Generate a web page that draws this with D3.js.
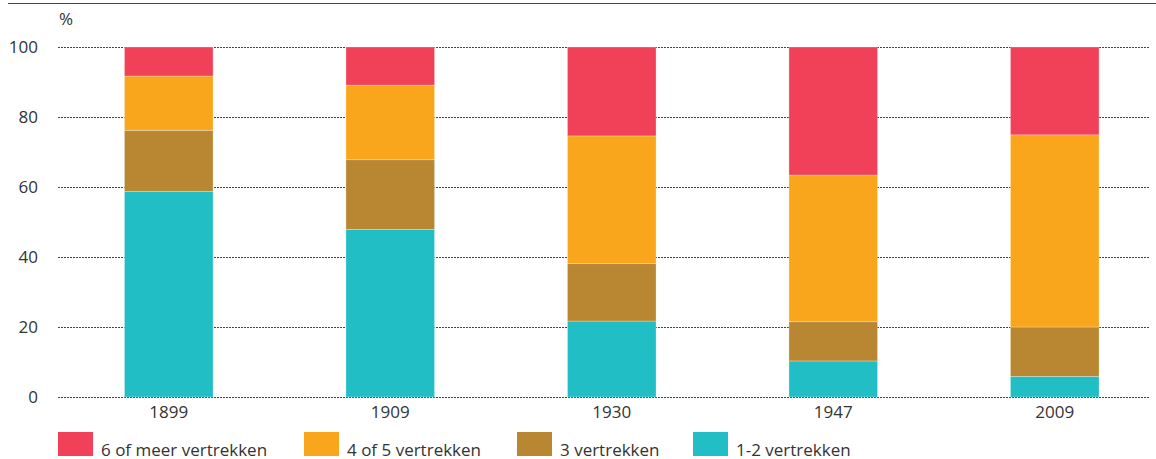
<!DOCTYPE html>
<html>
<head>
<meta charset="utf-8">
<script src="https://cdn.jsdelivr.net/npm/d3@7"></script>
<style>
  body { margin: 0; background: #fff; }
  svg text { font-family: "Open Sans", sans-serif; fill: #333; }
</style>
</head>
<body>
<svg id="chart" width="1156" height="459"></svg>
<script>
// data (% of households)
const years = ["1899", "1909", "1930", "1947", "2009"]
const oneTwo = [58.7, 47.9, 21.7, 10.3, 5.9]
const three = [17.5, 19.9, 16.4, 11.2, 14.1]
const fourFive = [15.5, 21.3, 36.5, 41.9, 54.9]
const sixPlus = [8.3, 10.9, 25.4, 36.6, 25.1]
const yTicks = [0, 20, 40, 60, 80, 100]

const seriesNames = ["1-2 vertrekken", "3 vertrekken", "4 of 5 vertrekken", "6 of meer vertrekken"]
const seriesColors = ["#21bec5", "#b98632", "#f9a61c", "#f04158"]
const legendOrder = [3, 2, 1, 0]

const svg = d3.select("#chart")

let rows = years.map((y, i) => ({
    year: y, s0: oneTwo[i], s1: three[i], s2: fourFive[i], s3: sixPlus[i]
}))
let stack = d3.stack().keys(["s0", "s1", "s2", "s3"])(rows)

let x = d3.scaleBand().domain(years).range([58, 1165.5]).paddingInner(0.6).paddingOuter(0.3)
let y = d3.scaleLinear().domain([0, 100]).range([397, 47])

// top rule
svg.append("line").attr("x1", 8).attr("x2", 1156).attr("y1", 3.5).attr("y2", 3.5)
    .attr("stroke", "#444").attr("stroke-width", 1.2)

// gridlines
svg.append("g").selectAll("line").data(yTicks).enter().append("line")
    .attr("x1", 58).attr("x2", 1150)
    .attr("y1", d => y(d) + 0.5).attr("y2", d => y(d) + 0.5)
    .attr("stroke", "#444").attr("stroke-width", 1).attr("stroke-dasharray", "2,1")

svg.append("g").selectAll("text").data(yTicks).enter().append("text")
    .attr("x", 38).attr("y", d => y(d))
    .attr("dy", "0.35em").attr("text-anchor", "end")
    .style("font-size", "17px")
    .text(d => d)

svg.append("text").attr("x", 59).attr("y", 25).style("font-size", "17px").text("%")

// bars
svg.append("g").selectAll("g").data(stack).enter().append("g")
    .attr("fill", (d, i) => seriesColors[i])
    .selectAll("rect").data(d => d).enter().append("rect")
    .attr("x", d => x(d.data.year))
    .attr("width", x.bandwidth())
    .attr("y", d => y(d[1]))
    .attr("height", d => y(d[0]) - y(d[1]))
    .attr("stroke", "#fff").attr("stroke-opacity", 0.35).attr("stroke-width", 0.8)

// year labels
svg.append("g").selectAll("text").data(years).enter().append("text")
    .attr("x", d => x(d) + x.bandwidth() / 2).attr("y", 412)
    .attr("dy", "0.35em").attr("text-anchor", "middle")
    .style("font-size", "17px")
    .text(d => d)

// legend
const legendX = [58, 304, 517, 693]
let lg = svg.append("g").selectAll("g").data(legendOrder).enter().append("g")
    .attr("transform", (d, i) => "translate(" + legendX[i] + ",432)")
lg.append("rect").attr("width", 35).attr("height", 24).attr("fill", d => seriesColors[d])
lg.append("text").attr("x", 43).attr("y", 24).style("font-size", "17px")
    .text(d => seriesNames[d])
</script>
</body>
</html>
